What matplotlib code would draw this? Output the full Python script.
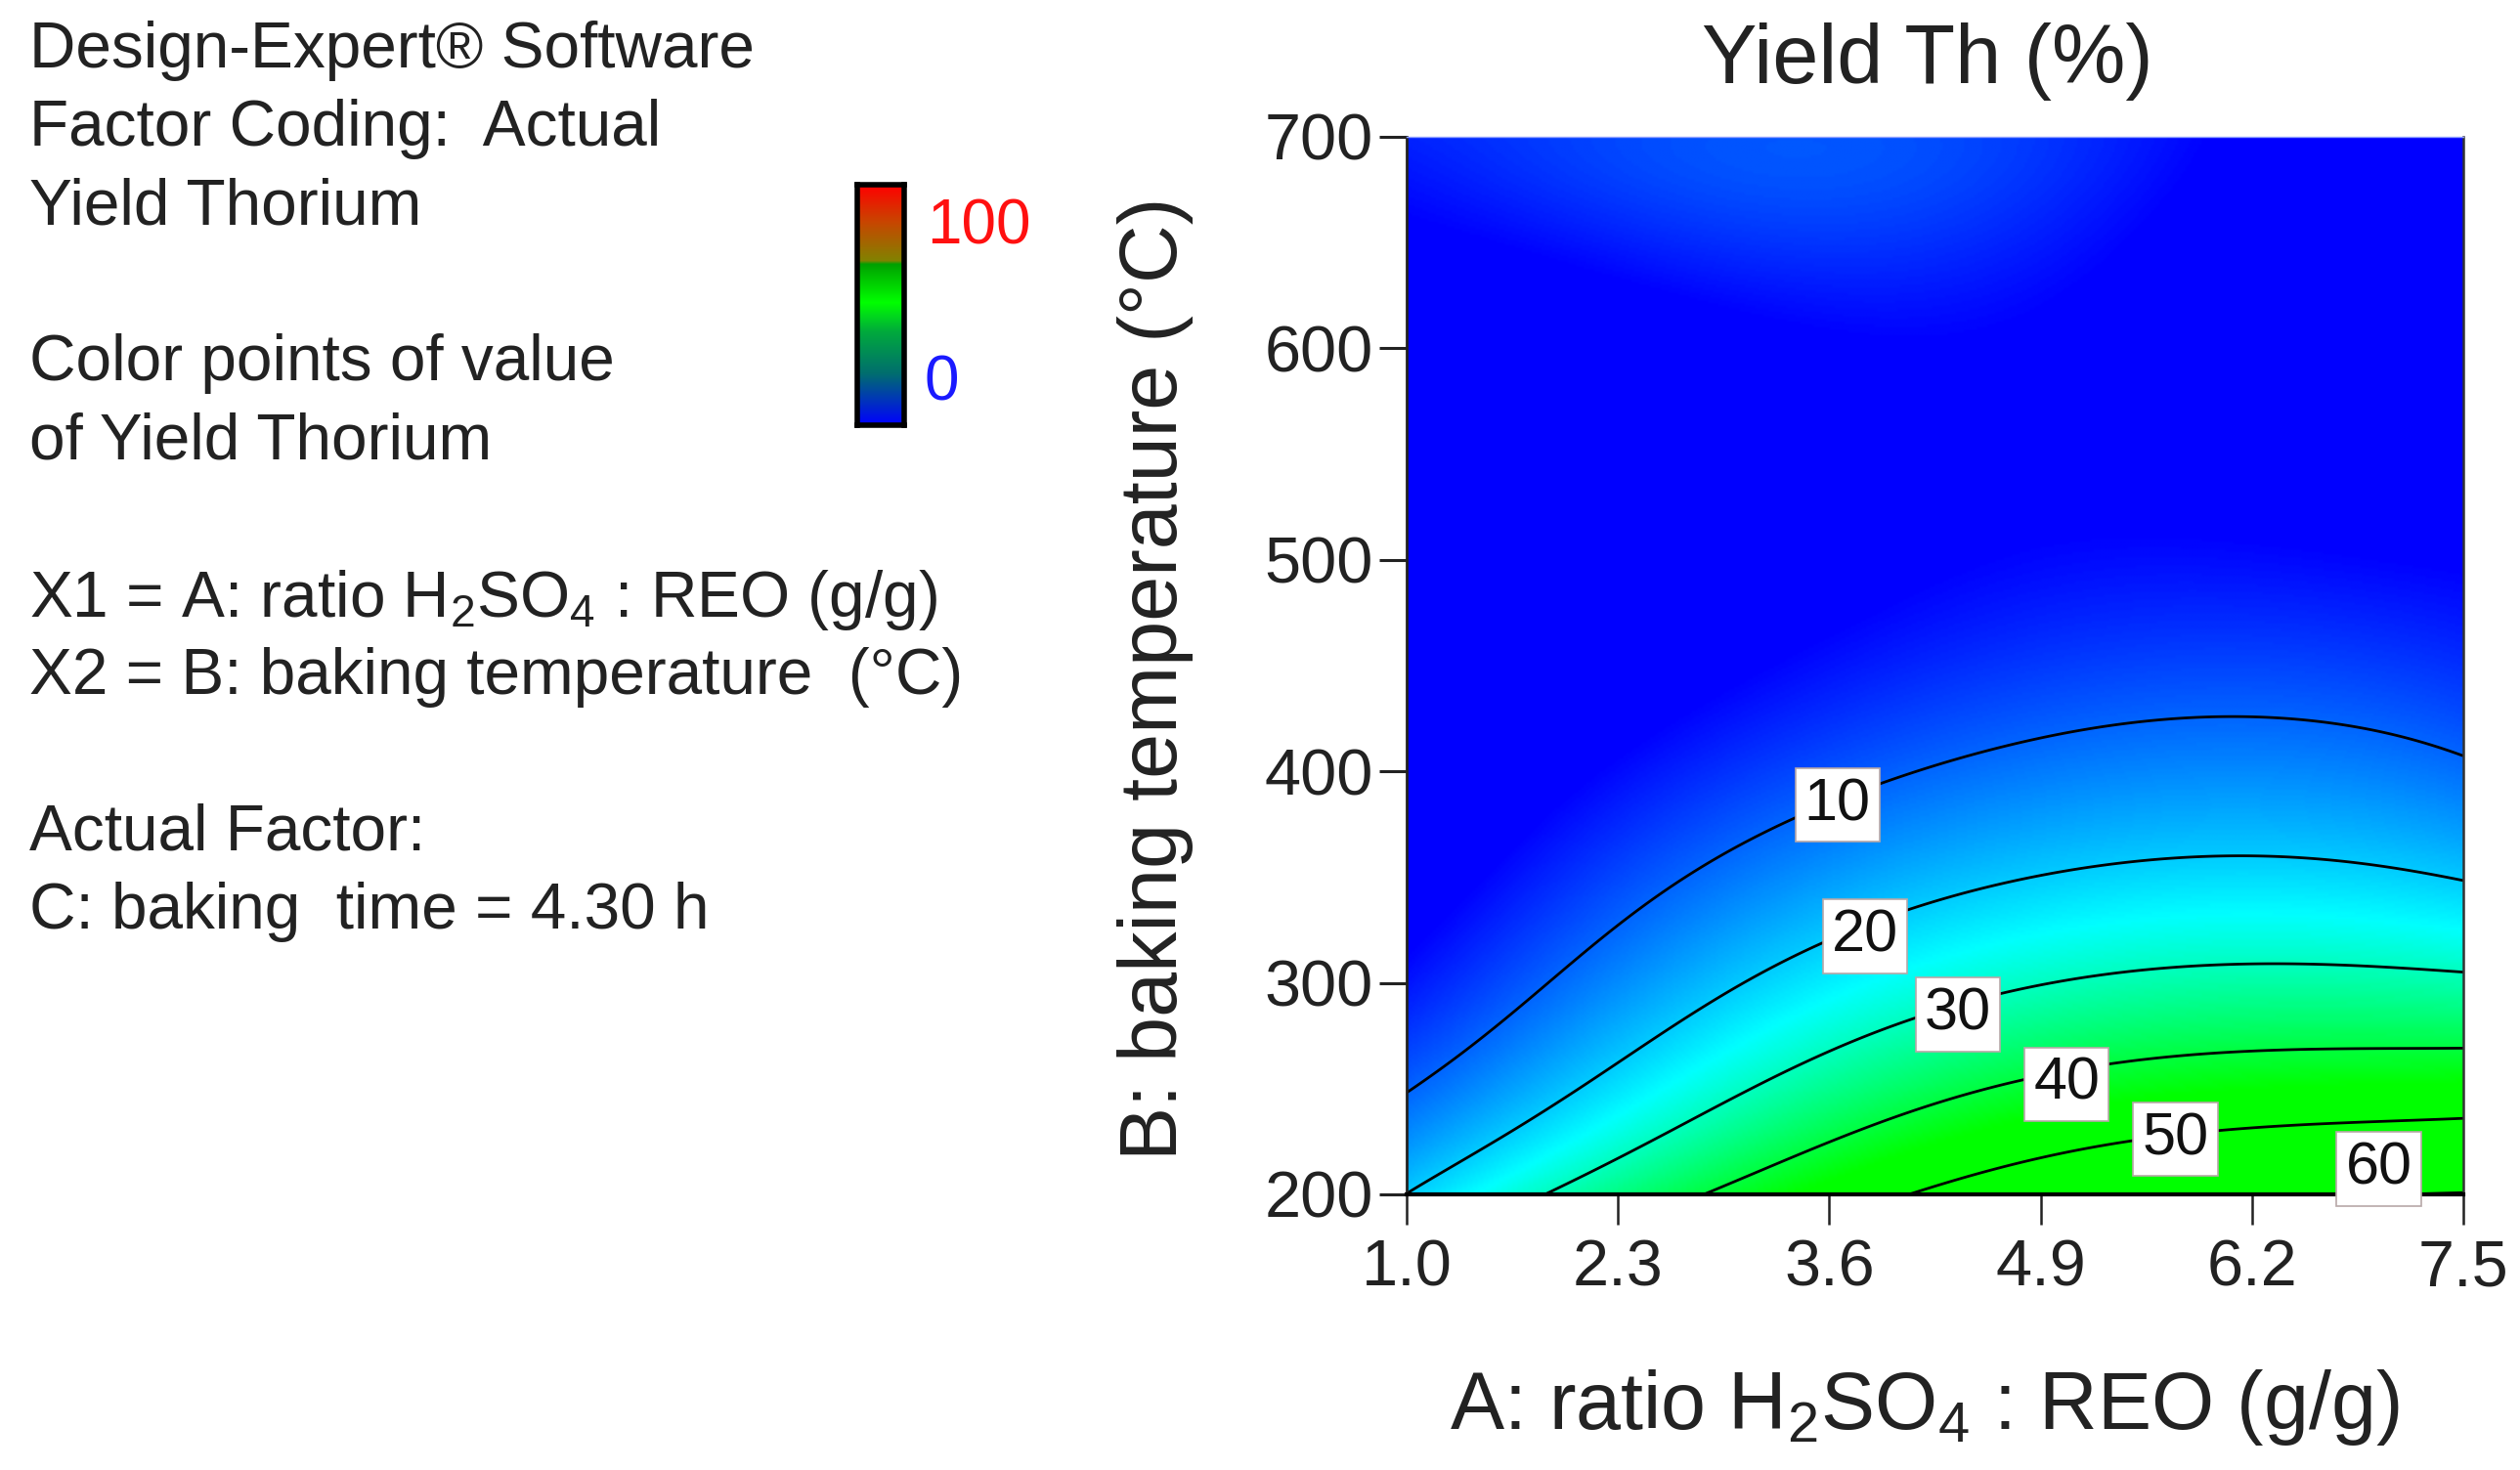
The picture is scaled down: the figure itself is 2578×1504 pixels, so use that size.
import numpy as np
import matplotlib
matplotlib.use("Agg")
import matplotlib.pyplot as plt
from matplotlib.colors import LinearSegmentedColormap
from numpy.polynomial import polynomial as P

plt.rcParams['font.family'] = ['Liberation Sans', 'DejaVu Sans']
plt.rcParams['mathtext.fontset'] = 'custom'
plt.rcParams['mathtext.rm'] = 'Liberation Sans'
plt.rcParams['mathtext.default'] = 'regular'

W, H = 2578, 1504

# ---------- data ----------
ratio_ticks = [1.0, 2.3, 3.6, 4.9, 6.2, 7.5]
ratio_labels = ['1.0', '2.3', '3.6', '4.9', '6.2', '7.5']
temp_ticks = [200, 300, 400, 500, 600, 700]
temp_levels = [200, 250, 300, 350, 400, 450, 500, 550, 600, 650, 700]
yield_at_a10 = [20.0, 10.0, 1.5, -4.0, -9.0, -12.0, -13.0, -10.0, -6.0, -1.0, 3.5]
yield_at_a23 = [35.0, 22.4, 13.5, 7.0, 1.5, -4.0, -8.0, -9.0, -4.0, 1.5, 7.0]
yield_at_a36 = [46.0, 34.5, 23.5, 15.0, 7.5, 2.0, -3.0, -4.0, 2.0, 6.0, 9.0]
yield_at_a49 = [55.0, 41.0, 30.0, 19.8, 12.7, 6.5, 0.5, -2.0, -2.0, 1.0, 5.0]
yield_at_a62 = [58.5, 45.0, 32.0, 22.0, 13.0, 7.0, 1.0, -3.0, -4.0, -3.0, -1.0]
yield_at_a75 = [60.3, 45.5, 31.5, 20.0, 10.4, 5.0, 0.0, -4.0, -7.0, -7.0, -6.0]
contour_levels = [10, 20, 30, 40, 50, 60]
label_texts = ['10', '20', '30', '40', '50', '60']
label_ratio = [3.65, 3.82, 4.39, 5.06, 5.73, 6.98]
label_temp = [384, 322, 285, 252, 226, 212]

notes = [
    ('Design-Expert® Software', 69),
    ('Factor Coding:  Actual', 149),
    ('Yield Thorium', 230),
    ('Color points of value', 389),
    ('of Yield Thorium', 470),
    ('X1 = A: ratio H$_2$SO$_4$ : REO (g/g)', 631),
    ('X2 = B: baking temperature  (°C)', 710),
    ('Actual Factor:', 869),
    ('C: baking  time = 4.30 h', 950),
]

# colour stops of the legend bar, bottom to top
bar_pos = [0.0, 0.215, 0.389, 0.51, 0.671, 0.685, 0.846, 1.0]
bar_colors = ['#0000ff', '#006e6e', '#00aa3c', '#00ff00', '#00a000', '#828200', '#c84600', '#ff0000']
# colour stops of the surface
map_pos = [0.0, 0.25, 0.45, 1.0]
map_colors = ['#0000ff', '#00ffff', '#00ff00', '#00ff00']

# ---------- figure ----------
fig = plt.figure(figsize=(W / 100, H / 100), dpi=100, facecolor='white')


def box(l, t, r, b):
    return [l / W, 1 - b / H, (r - l) / W, (b - t) / H]


ax = fig.add_axes(box(1439, 140, 2520, 1222))

table = np.array([yield_at_a10, yield_at_a23, yield_at_a36,
                  yield_at_a49, yield_at_a62, yield_at_a75]).T
AA, TT = np.meshgrid(ratio_ticks, temp_levels)


def unit(a, t):
    return (a - 4.25) / 3.25, (t - 450.0) / 250.0


deg = (4, 6)
ua, ut = unit(AA.ravel(), TT.ravel())
coef = np.linalg.lstsq(P.polyvander2d(ua, ut, deg), table.ravel(), rcond=None)[0]
fa = np.linspace(1.0, 7.5, 400)
ft = np.linspace(200, 700, 400)
FA, FT = np.meshgrid(fa, ft)
ua, ut = unit(FA, FT)
FZ = P.polyval2d(ua, ut, coef.reshape(deg[0] + 1, deg[1] + 1))

surface_cmap = LinearSegmentedColormap.from_list('surf', list(zip(map_pos, map_colors)))
ax.imshow(FZ, origin='lower', extent=[1.0, 7.5, 200, 700], aspect='auto',
          cmap=surface_cmap, vmin=0, vmax=100, interpolation='bilinear', zorder=1)
ax.contour(FA, FT, FZ, levels=contour_levels, colors='black', linewidths=2.0, zorder=2)

for txt, a, t in zip(label_texts, label_ratio, label_temp):
    ax.text(a, t, txt, fontsize=44, ha='center', va='center', color='#111111', zorder=3,
            bbox=dict(boxstyle='square,pad=0.15', fc='white', ec='#b8a8a8', lw=1.2))

ax.set_xlim(1.0, 7.5)
ax.set_ylim(200, 700)
ax.set_xticks(ratio_ticks)
ax.set_xticklabels(ratio_labels)
ax.set_yticks(temp_ticks)
ax.tick_params(axis='x', length=22, width=1.8, pad=11, labelsize=48, colors='#222222')
ax.tick_params(axis='y', length=20, width=2.2, pad=4.5, labelsize=48, colors='#222222')
for s, c, lw in (('left', '#222222', 2.0), ('right', '#333333', 1.8),
                 ('bottom', 'black', 3.0), ('top', '#8fa0ff', 1.0)):
    ax.spines[s].set_color(c)
    ax.spines[s].set_linewidth(lw)

tcolor = '#222222'
fig.text(1972 / W, 1 - 63 / H, 'Yield Th (%)', fontsize=61, ha='center', va='center', color=tcolor)
fig.text(1969 / W, 1 - 1440 / H, 'A: ratio H$_2$SO$_4$ : REO (g/g)', fontsize=59.5,
         ha='center', va='center', color=tcolor)
fig.text(1182 / W, 1 - 694 / H, 'B: baking temperature (°C)', fontsize=59.6, rotation=90,
         ha='center', va='center', color=tcolor)

for line, base in notes:
    fig.text(30 / W, 1 - base / H, line, fontsize=47.3, ha='left', va='baseline', color=tcolor)

# legend bar
cax = fig.add_axes(box(877, 189, 925, 435))
bar_cmap = LinearSegmentedColormap.from_list('bar', list(zip(bar_pos, bar_colors)))
cax.imshow(np.linspace(0, 1, 256)[:, None], origin='lower', aspect='auto', cmap=bar_cmap,
           vmin=0, vmax=1, extent=[0, 1, 0, 100])
cax.set_xticks([])
cax.set_yticks([])
for s in cax.spines.values():
    s.set_linewidth(4)
    s.set_color('black')
fig.text(948 / W, 1 - 233 / H, '100', fontsize=46, color='#ff1010', ha='left', va='center')
fig.text(945 / W, 1 - 393 / H, '0', fontsize=46, color='#1a1aff', ha='left', va='center')

fig.savefig('out.png', dpi=100, facecolor='white')
